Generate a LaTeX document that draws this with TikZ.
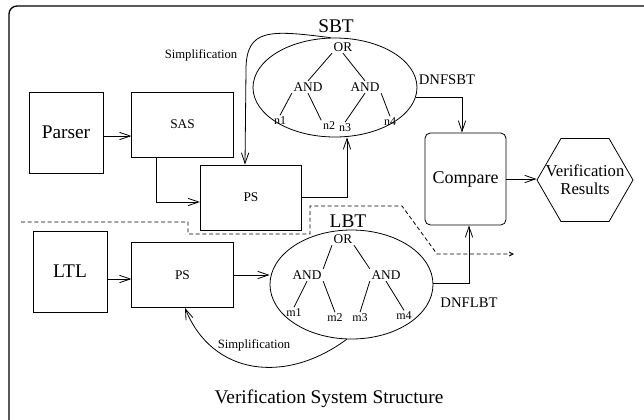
\documentclass[tikz,border=0pt]{standalone}
\usepackage{fontspec}
\setmainfont{Liberation Serif}
\usetikzlibrary{arrows.meta,positioning,shapes.geometric,calc}

\begin{document}
\begin{tikzpicture}[
  x=0.75pt, y=-0.75pt, line width=0.6pt,
  >={Straight Barb[length=8pt,width=5.5pt]},
  box/.style={draw, inner sep=2pt, align=center},
  blk/.style={box, minimum width=55.5pt, minimum height=60.75pt, font=\fontsize{14.5}{16}\selectfont},
  stage/.style={box, minimum width=76pt, minimum height=48.75pt, font=\fontsize{10}{12}\selectfont},
  oval/.style={draw, ellipse, inner sep=0pt},
  gate/.style={inner sep=1pt, font=\fontsize{10}{11}\selectfont},
  leaf/.style={inner sep=1pt, font=\fontsize{9}{10}\selectfont},
  lbl/.style={inner sep=1pt, font=\fontsize{9.5}{11}\selectfont},
  dnf/.style={inner sep=1pt, font=\fontsize{11}{12}\selectfont},
  big/.style={inner sep=1pt, font=\fontsize{14.5}{16}\selectfont},
  sep/.style={dashed, dash pattern=on 3pt off 2pt, -{Straight Barb[length=3pt,width=3pt]}},
]
\useasboundingbox (0,0) rectangle (644,419);

% frame
\draw[line width=1pt, rounded corners=6pt] (9,440) -- (9,6) -- (670,6);

% upper part
\node[blk]   (parser) at (66,132.5) {Parser};
\node[stage] (sas) at (182.5,124.5) {SAS};
\node[stage] (ps1) at (251,197.5) {PS};
\node[oval, minimum width=123pt, minimum height=74.25pt] (sbt) at (335,87.5) {};
\node[big, anchor=base] (sbtlbl) at (336,32) {SBT};

\node[gate] (sor)   at (343,47) {OR};
\node[gate] (sandl) at (308,87) {AND};
\node[gate] (sandr) at (365,87) {AND};
\node[leaf] (n1) at (280,121) {n1};
\node[leaf] (n2) at (329,126) {n2};
\node[leaf] (n3) at (345,128) {n3};
\node[leaf] (n4) at (390,122) {n4};
\draw (sor.south west) -- (sandl.north);
\draw (sor.south) -- (sandr.north);
\draw (sandl.south west) -- (n1.north);
\draw (sandl.south) -- (n2.north west);
\draw (sandr.south) -- (n3.north);
\draw (sandr.south east) -- (n4.north);

% lower part
\node[blk]   (ltl) at (70,271.5) {LTL};
\node[stage] (ps2) at (182.5,275) {PS};
\node[oval, minimum width=122.25pt, minimum height=81.75pt] (lbt) at (351.5,284.5) {};
\node[big, anchor=base] (lbtlbl) at (348,227) {LBT};

\node[gate] (lor)   at (343,239) {OR};
\node[gate] (landl) at (307,275) {AND};
\node[gate] (landr) at (386,275) {AND};
\node[leaf] (m1) at (294,313) {m1};
\node[leaf] (m2) at (335,318) {m2};
\node[leaf] (m3) at (360,318) {m3};
\node[leaf] (m4) at (404,316) {m4};
\draw (lor.south west) -- (landl.north east);
\draw (lor.south east) -- (landr.north west);
\draw (landl.south) -- (m1.north);
\draw (landl.south east) -- (m2.north);
\draw (landr.south west) -- (m3.north);
\draw (landr.south) -- (m4.north);

% right side
\node[box, rounded corners=4pt, minimum width=60.75pt, minimum height=69pt,
  font=\fontsize{13.5}{15}\selectfont] (cmp) at (465.5,179) {Compare};
\node[draw, regular polygon, regular polygon sides=6, minimum size=72pt, inner sep=0pt,
  label={[align=center, font=\fontsize{12.5}{13.5}\selectfont]center:Verification\\Results}]
  (res) at (585,180) {};

\node[dnf] (dnfs) at (447,80) {DNFSBT};
\node[dnf] (dnfl) at (469,303) {DNFLBT};
\node[lbl] (simpa) at (201,55) {Simplification};
\node[lbl] (simpb) at (254,345) {Simplification};
\node[big, anchor=base] (title) at (329,403) {Verification System Structure};

% connectors
\draw[->] ($(parser.east)+(0,3.5)$) -- ($(sas.west)+(0,11.5)$);
\draw[->] ($(sas.south)+(-26.5,0)$) |- ($(ps1.west)+(0,4.5)$);
\draw[->] (ps1.east) -| ($(sbt.south)+(12,0)$);
\draw[->] (sbt.-7) -| ($(cmp.north)+(-3.5,0)$);
\draw[->] ($(ltl.east)+(0,7.5)$) -- ($(ps2.west)+(0,4)$);
\draw[->] (ps2.east) -- (ps2.east -| lbt.west);
\draw[->] ($(lbt.east)+(0,-1.5)$) -| ($(cmp.south)+(3.5,0)$);
\draw[->] (cmp.east) -- (cmp.east -| res.west);
\draw[->] (sbt.95) .. controls (270,30) and (246,28) .. (246,70) -- ($(ps1.north)+(-6,0)$);
\draw[->] (lbt.265) .. controls (285,385) and (212,375) .. ($(ps2.south)+(2.5,0)$);

% separator
\draw[sep] (21,222) -| (188,234) -| (310,206) -- (402,206) -- (437,254) -- (514,254);
\end{tikzpicture}
\end{document}
